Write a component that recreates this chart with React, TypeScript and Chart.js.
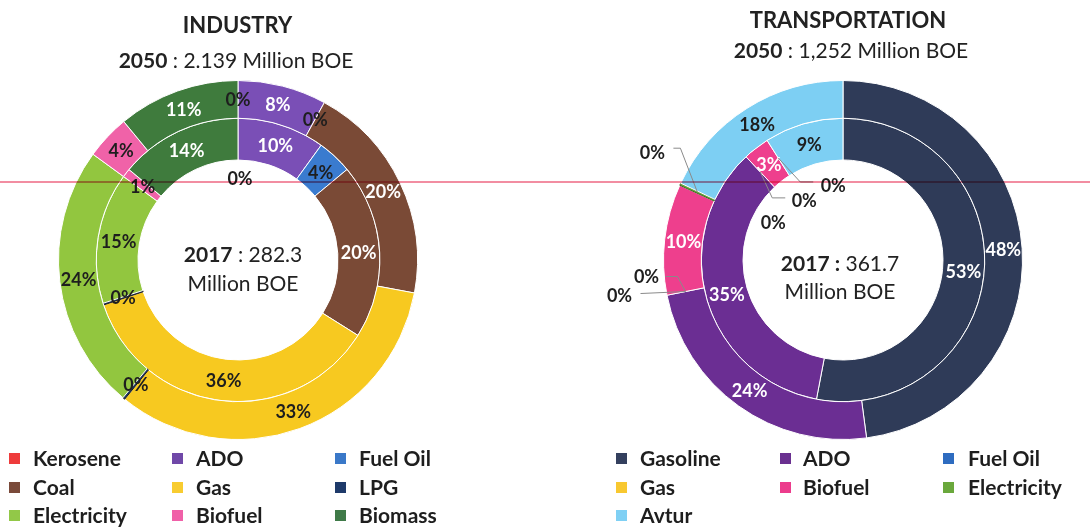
import React, { useEffect, useRef } from 'react';
import { Chart, registerables } from 'chart.js';

Chart.register(...registerables);

// ---------- DATA ----------
const industryCategories = ['Kerosene', 'ADO', 'Fuel Oil', 'Coal', 'Gas', 'LPG', 'Electricity', 'Biofuel', 'Biomass'];
const industry2050 = [0, 8, 0, 20, 33, 0.2, 24, 4, 11];
const industry2017 = [0, 10, 4, 20, 36, 0.2, 15, 1, 14];

const transportCategories = ['Gasoline', 'ADO', 'Fuel Oil', 'Gas', 'Biofuel', 'Electricity', 'Avtur'];
const transport2050 = [48, 24, 0, 0, 10, 0.2, 18];
const transport2017 = [53, 35, 0, 0, 3, 0, 9];

const industryTitle = 'INDUSTRY';
const industryTotal2050 = '2.139';
const industryTotal2017 = '282.3';
const transportTitle = 'TRANSPORTATION';
const transportTotal2050 = '1,252';
const transportTotal2017 = '361.7';

// ---------- STYLES ----------
const FONT = 'Lato, "Open Sans", sans-serif';
const DARK = '#1e1e1e';
const LIGHT = '#ffffff';

const industryColors = ['#e8383c', '#7a4fb6', '#3a7bcf', '#7a4a36', '#f7c920', '#1f3a68', '#92c63f', '#f062a8', '#3f7b3d'];
const industryLegendColors = ['#ee3b3b', '#7048a8', '#3a78c8', '#7a4a3a', '#f8cc30', '#1e3a6a', '#92c848', '#f060a8', '#3f7a48'];
const industryBorders = ['#fff', '#fff', '#fff', '#fff', '#fff', '#1a1a1a', '#fff', '#fff', '#fff'];

const transportColors = ['#2f3b58', '#6b2e93', '#2e6cc0', '#f8c830', '#ee3f8d', '#6aa83c', '#7dcff3'];
const transportLegendColors = ['#34405e', '#6a3090', '#2e6cc0', '#f8c830', '#ec3c8c', '#6aa83c', '#7fd0f4'];
const transportBorders = ['#fff', '#fff', '#fff', '#fff', '#fff', '#3d6b22', '#fff'];

type LabelOffset = { dx: number; dy: number; line?: number[][] };
type RingStyle = { colors: string[]; offsets: Record<number, LabelOffset> };

const industryRings: RingStyle[] = [
  { colors: [DARK, LIGHT, DARK, LIGHT, DARK, DARK, DARK, DARK, LIGHT], offsets: {} },
  { colors: [DARK, LIGHT, DARK, LIGHT, DARK, DARK, DARK, DARK, LIGHT], offsets: { 0: { dx: 2, dy: 39 } } },
];

const transportRings: RingStyle[] = [
  {
    colors: [LIGHT, LIGHT, DARK, DARK, LIGHT, DARK, DARK],
    offsets: {
      2: { dx: -39, dy: -15, line: [[19, 0], [31, 0]] },
      3: { dx: -66, dy: 4, line: [[21, -2]] },
      5: { dx: -45, dy: -40, line: [[21, -4], [28, -4]] },
    },
  },
  {
    colors: [LIGHT, LIGHT, DARK, DARK, LIGHT, DARK, DARK],
    offsets: {
      2: { dx: 44, dy: 28, line: [[-19, -2], [-32, -2]] },
      3: { dx: 13, dy: 50 },
      5: { dx: 55, dy: 27, line: [[-20, -3], [-33, -3]] },
    },
  },
];

// ---------- PLUGIN ----------
const sliceLabels = {
  id: 'sliceLabels',
  afterDatasetsDraw(chart: any, _args: any, opts: any) {
    const ctx = chart.ctx as CanvasRenderingContext2D;
    const rings: RingStyle[] = opts.rings || [];
    chart.data.datasets.forEach((ds: any, di: number) => {
      const meta = chart.getDatasetMeta(di);
      const ring = rings[di];
      if (!ring) return;
      meta.data.forEach((arc: any, i: number) => {
        const p = arc.getProps(['startAngle', 'endAngle', 'innerRadius', 'outerRadius', 'x', 'y'], true);
        const a = (p.startAngle + p.endAngle) / 2;
        const r = (p.innerRadius + p.outerRadius) / 2;
        const ax = p.x + Math.cos(a) * r;
        const ay = p.y + Math.sin(a) * r;
        const o = ring.offsets[i];
        const lx = ax + (o ? o.dx : 0);
        const ly = ay + (o ? o.dy : 0);
        ctx.save();
        if (o && o.line) {
          ctx.strokeStyle = '#8a8a8a';
          ctx.lineWidth = 1;
          ctx.beginPath();
          o.line.forEach((pt, k) => {
            if (k === 0) ctx.moveTo(lx + pt[0], ly + pt[1]);
            else ctx.lineTo(lx + pt[0], ly + pt[1]);
          });
          ctx.lineTo(ax, ay);
          ctx.stroke();
        }
        ctx.font = `bold 18px ${FONT}`;
        ctx.textAlign = 'center';
        ctx.textBaseline = 'middle';
        ctx.fillStyle = ring.colors[i];
        ctx.fillText(Math.round(ds.data[i]) + '%', lx, ly + 1);
        ctx.restore();
      });
    });
  },
};

// ---------- COMPONENTS ----------
type DonutProps = {
  categories: string[];
  outer: number[];
  inner: number[];
  colors: string[];
  borders: string[];
  rings: RingStyle[];
  left: number;
  padding: { left: number; right: number; top: number; bottom: number };
};

function Donut({ categories, outer, inner, colors, borders, rings, left, padding }: DonutProps) {
  const ref = useRef<HTMLCanvasElement>(null);
  useEffect(() => {
    if (!ref.current) return;
    const chart = new Chart(ref.current, {
      type: 'doughnut',
      data: {
        labels: categories,
        datasets: [
          { label: '2050', data: outer, backgroundColor: colors, borderColor: borders, borderWidth: 1, weight: 38 } as any,
          { label: '2017', data: inner, backgroundColor: colors, borderColor: borders, borderWidth: 1, weight: 42 } as any,
        ],
      },
      options: {
        responsive: false,
        animation: false,
        events: [],
        cutout: 100,
        layout: { padding },
        plugins: {
          legend: { display: false },
          tooltip: { enabled: false },
          sliceLabels: { rings },
        } as any,
      },
      plugins: [sliceLabels as any],
    });
    return () => chart.destroy();
  }, []);
  return (
    <canvas
      ref={ref}
      width={545}
      height={527}
      style={{ position: 'absolute', left, top: 0, width: 545, height: 527, display: 'block' }}
    />
  );
}

function Text({ x, y, size, w = 400, children, bold = false }: any) {
  return (
    <div
      style={{
        position: 'absolute',
        left: x - w / 2,
        top: y,
        width: w,
        textAlign: 'center',
        fontFamily: FONT,
        fontSize: size,
        lineHeight: `${size}px`,
        fontWeight: bold ? 700 : 400,
        color: '#222',
        whiteSpace: 'nowrap',
      }}
    >
      {children}
    </div>
  );
}

function Legend({ items, colors, squareX, textX, rowTops }: any) {
  return (
    <>
      {items.map((name: string, i: number) => {
        const col = i % 3;
        const row = Math.floor(i / 3);
        const top = rowTops[row];
        return (
          <React.Fragment key={name + i}>
            <div
              style={{
                position: 'absolute',
                left: squareX[col],
                top: top + 6,
                width: 11,
                height: 11,
                background: colors[i],
              }}
            />
            <div
              style={{
                position: 'absolute',
                left: textX[col],
                top,
                fontFamily: FONT,
                fontSize: 21,
                lineHeight: '21px',
                fontWeight: 700,
                color: '#1e1e1e',
                whiteSpace: 'nowrap',
              }}
            >
              {name}
            </div>
          </React.Fragment>
        );
      })}
    </>
  );
}

export default function App() {
  const rowTops = [447, 476, 504];
  return (
    <div style={{ position: 'absolute', left: 0, top: 0, width: 1090, height: 527, background: '#fff', overflow: 'hidden' }}>
      <Donut
        categories={industryCategories}
        outer={industry2050}
        inner={industry2017}
        colors={industryColors}
        borders={industryBorders}
        rings={industryRings}
        left={0}
        padding={{ left: 58, right: 127, top: 80, bottom: 87 }}
      />
      <Donut
        categories={transportCategories}
        outer={transport2050}
        inner={transport2017}
        colors={transportColors}
        borders={transportBorders}
        rings={transportRings}
        left={545}
        padding={{ left: 118, right: 67, top: 80, bottom: 87 }}
      />

      <Text x={237.5} y={14} size={22} bold>{industryTitle}</Text>
      <Text x={236} y={49} size={21}><b>2050</b> : {industryTotal2050} Million BOE</Text>
      <Text x={243} y={242.5} size={21}><b>2017</b> : {industryTotal2017}</Text>
      <Text x={243} y={271.5} size={21}>Million BOE</Text>

      <Text x={848} y={8.5} size={22} bold>{transportTitle}</Text>
      <Text x={851} y={39} size={21}><b>2050</b> : {transportTotal2050} Million BOE</Text>
      <Text x={840} y={251.5} size={21}><b>2017 :</b> {transportTotal2017}</Text>
      <Text x={840} y={279.5} size={21}>Million BOE</Text>

      <Legend items={industryCategories} colors={industryLegendColors} squareX={[9, 172, 335]} textX={[33, 196, 359]} rowTops={rowTops} />
      <Legend items={transportCategories} colors={transportLegendColors} squareX={[616, 780, 943]} textX={[640, 803, 968]} rowTops={rowTops} />

      <div style={{ position: 'absolute', left: 0, top: 181, width: 1090, height: 2, background: '#f07890', mixBlendMode: 'multiply', opacity: 0.85 }} />
    </div>
  );
}
